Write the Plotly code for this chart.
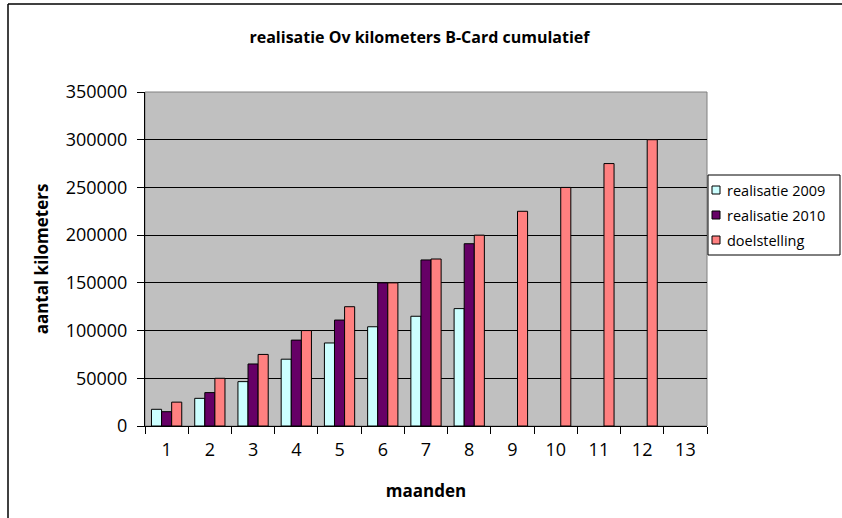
import plotly.graph_objects as go

months = [str(i) for i in range(1, 14)]
series_names = ["realisatie 2009", "realisatie 2010", "doelstelling"]
real_2009 = [17500, 29000, 46500, 70000, 87000, 104000, 115000, 123000, None, None, None, None, None]
real_2010 = [15000, 35000, 65000, 90000, 111000, 150000, 174000, 191000, None, None, None, None, None]
doel = [25000, 50000, 75000, 100000, 125000, 150000, 175000, 200000, 225000, 250000, 275000, 300000, None]
colors = ["#CCFFFF", "#660066", "#FF8080"]

FONT = "Open Sans"
W, H = 842, 518
L, R, T, B = 145, 135, 92, 92
pw, ph = W - L - R, H - T - B

def px(x):
    return (x - L) / pw

def py(y):
    return (H - B - y) / ph

fig = go.Figure()
for name, vals, col in zip(series_names, [real_2009, real_2010, doel], colors):
    fig.add_trace(go.Bar(x=months, y=vals, name=name,
                         marker=dict(color=col, line=dict(color="black", width=1))))

fig.update_layout(
    width=W, height=H,
    margin=dict(l=L, r=R, t=T, b=B, autoexpand=False),
    paper_bgcolor="white", plot_bgcolor="#C0C0C0",
    barmode="group", bargap=0.3, bargroupgap=0,
    font=dict(family=FONT, color="black", size=15),
    title=dict(text="<b>realisatie Ov kilometers B-Card cumulatief</b>",
               x=px(425), xanchor="center", y=1 - 37 / H, yanchor="middle",
               font=dict(size=16, family=FONT)),
    showlegend=False,
    xaxis=dict(type="category", tickson="boundaries", ticks="outside", ticklen=7,
               tickcolor="black", showline=True, linecolor="black", linewidth=1,
               showgrid=False, tickfont=dict(size=18), ticklabelstandoff=7,
               title=dict(text="<b>maanden</b>", font=dict(size=17), standoff=25)),
    yaxis=dict(range=[0, 350000], dtick=50000, ticks="outside", ticklen=7,
               tickcolor="black", showline=True, linecolor="black", linewidth=1,
               showgrid=True, gridcolor="black", gridwidth=1, zeroline=False,
               tickfont=dict(size=18), tickformat="d", ticklabelstandoff=6,
               title=dict(text="<b>aantal kilometers</b>", font=dict(size=17), standoff=12)),
)

# plot area border
fig.add_shape(type="rect", xref="paper", yref="paper", x0=0, x1=1, y0=0, y1=1,
              line=dict(color="#808080", width=1), layer="below")
# chart area frame (top & left)
fig.add_shape(type="line", xref="paper", yref="paper", x0=px(8), x1=px(842), y0=py(4), y1=py(4),
              line=dict(color="black", width=1.5))
fig.add_shape(type="line", xref="paper", yref="paper", x0=px(8), x1=px(8), y0=py(4), y1=py(530),
              line=dict(color="black", width=1.5))

# legend (drawn as box + swatches + labels)
fig.add_shape(type="rect", xref="paper", yref="paper", x0=px(708), x1=px(840), y0=py(255), y1=py(175),
              line=dict(color="black", width=1), fillcolor="white")
for i, (name, col) in enumerate(zip(series_names, colors)):
    yc = 190 + 25 * i
    fig.add_shape(type="rect", xref="paper", yref="paper",
                  x0=px(712), x1=px(720), y0=py(yc + 4), y1=py(yc - 4),
                  line=dict(color="black", width=1), fillcolor=col)
    fig.add_annotation(xref="paper", yref="paper", x=px(725), y=py(yc), text=name,
                       showarrow=False, xanchor="left", yanchor="middle",
                       font=dict(size=14.5, family=FONT))

fig.write_html("out.html", config={"displayModeBar": False},
               post_script="document.body.style.margin='0';document.body.style.overflow='hidden';")
